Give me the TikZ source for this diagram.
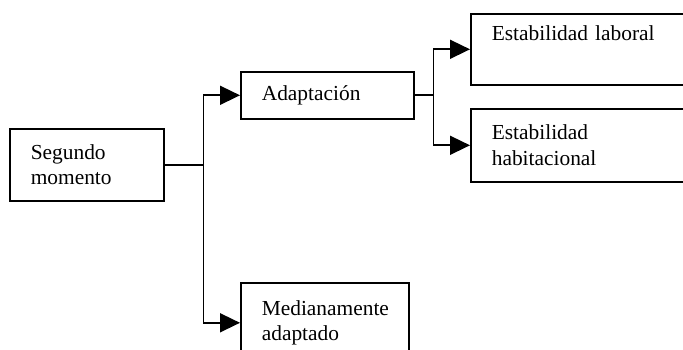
\documentclass[tikz,border=0pt]{standalone}
\usepackage{fontspec}
\setmainfont{Liberation Serif}
\usetikzlibrary{arrows.meta}

\tikzset{
  caja/.style={draw, line width=1.6pt, anchor=north west, inner xsep=21pt,
    align=left, font=\fontsize{21.4}{25.5}\selectfont},
  flecha/.style={line width=1.6pt, -{Triangle[length=20pt,width=19pt]}}
}

\begin{document}
\begin{tikzpicture}[x=1pt,y=-1pt]
  \useasboundingbox (0,0) rectangle (683,350);
  \clip (0,0) rectangle (683,350);

  \node[caja, minimum width=154pt, minimum height=72pt, text width=112pt] (seg) at (9,128) {Segundo\\momento};
  \node[caja, minimum width=173pt, minimum height=47pt, text width=131pt] (adap) at (240,71) {Adaptación};
  \node[caja, minimum width=168pt, minimum height=80pt, text width=126pt] (medi) at (240,282) {Medianamente\\adaptado};

  % la rama derecha sale del cuadro
  \node[caja, minimum width=240pt, minimum height=71pt, text width=198pt] (lab) at (470,13) {Estabilidad laboral\\ \strut};
  \node[caja, minimum width=240pt, minimum height=73pt, text width=198pt] (hab) at (470,108) {Estabilidad\\habitacional};

  \draw[line width=1.6pt] (seg.east) -- ++(39,0) coordinate (c1);
  \draw[flecha] (c1) |- (adap.west);
  \draw[flecha] (c1) |- (medi.west);

  \draw[line width=1.6pt] (adap.east) -- ++(19,0) coordinate (c2);
  \draw[flecha] (c2) |- (lab.west);
  \draw[flecha] (c2) |- (hab.west);
\end{tikzpicture}
\end{document}
